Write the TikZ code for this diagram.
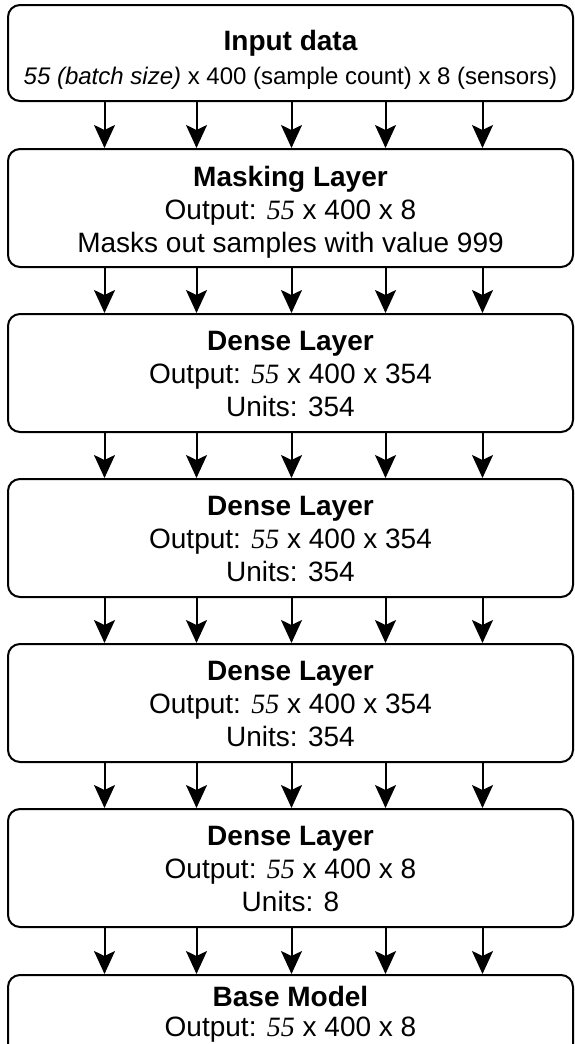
\documentclass[tikz,border=0pt]{standalone}
\usepackage{fontspec}
\setmainfont{Liberation Sans}
\newfontfamily\dimfont{Liberation Serif}
\usetikzlibrary{arrows.meta}
\newcommand{\bsz}{\textit{\dimfont 55}}
\begin{document}
\begin{tikzpicture}[x=1pt,y=-1pt,
  layer/.style={draw=black, line width=2pt, rounded corners=12pt,
    minimum width=565pt, inner sep=0pt, fill=white},
  txt/.style={anchor=base, inner sep=0pt, font=\fontsize{28}{33}\selectfont},
  subtxt/.style={anchor=base, inner sep=0pt, font=\fontsize{24}{29}\selectfont},
  flow/.style={line width=2pt, -{Stealth[length=23pt,width=21pt,inset=5pt]}}
]
\useasboundingbox (0,0) rectangle (574,1044);
\clip (0,0) rectangle (574,1044);
\fill[white] (0,0) rectangle (574,1044);

% layer boxes
\node[layer, minimum height=96pt]  (b1) at (290.5,53)   {};
\node[layer, minimum height=118pt] (b2) at (290.5,208)  {};
\node[layer, minimum height=118pt] (b3) at (290.5,373)  {};
\node[layer, minimum height=118pt] (b4) at (290.5,538)  {};
\node[layer, minimum height=118pt] (b5) at (290.5,703)  {};
\node[layer, minimum height=118pt] (b6) at (290.5,868)  {};
\node[layer, minimum height=118pt] (b7) at (290.5,1034) {};

% input
\node[txt]    (t1a) at (290.5,50) {\bfseries Input data};
\node[subtxt] (t1b) at (290.5,84) {\textit{55 (batch size)} x 400 (sample count) x 8 (sensors)};

% masking
\node[txt] (t2a) at (290.5,186) {\bfseries Masking Layer};
\node[txt] (t2b) at (290.5,219) {Output: \bsz\ x 400 x 8};
\node[txt] (t2c) at (290.5,252) {Masks out samples with value 999};

% dense layers
\node[txt] (t3a) at (290.5,350) {\bfseries Dense Layer};
\node[txt] (t3b) at (290.5,383) {Output: \bsz\ x 400 x 354};
\node[txt] (t3c) at (290.5,416) {Units: 354};

\node[txt] (t4a) at (290.5,515) {\bfseries Dense Layer};
\node[txt] (t4b) at (290.5,548) {Output: \bsz\ x 400 x 354};
\node[txt] (t4c) at (290.5,581) {Units: 354};

\node[txt] (t5a) at (290.5,680) {\bfseries Dense Layer};
\node[txt] (t5b) at (290.5,713) {Output: \bsz\ x 400 x 354};
\node[txt] (t5c) at (290.5,746) {Units: 354};

\node[txt] (t6a) at (290.5,845) {\bfseries Dense Layer};
\node[txt] (t6b) at (290.5,878) {Output: \bsz\ x 400 x 8};
\node[txt] (t6c) at (290.5,911) {Units: 8};

% base model
\node[txt] (t7a) at (290.5,1006) {\bfseries Base Model};
\node[txt] (t7b) at (290.5,1036) {Output: \bsz\ x 400 x 8};

% five parallel connections between consecutive layers
\foreach \u/\v in {b1/b2,b2/b3,b3/b4,b4/b5,b5/b6,b6/b7}
  \foreach \dx in {-186,-94,1,95,192}
    \draw[flow] ([xshift=\dx pt]\u.south) -- ([xshift=\dx pt]\v.north);
\end{tikzpicture}
\end{document}
